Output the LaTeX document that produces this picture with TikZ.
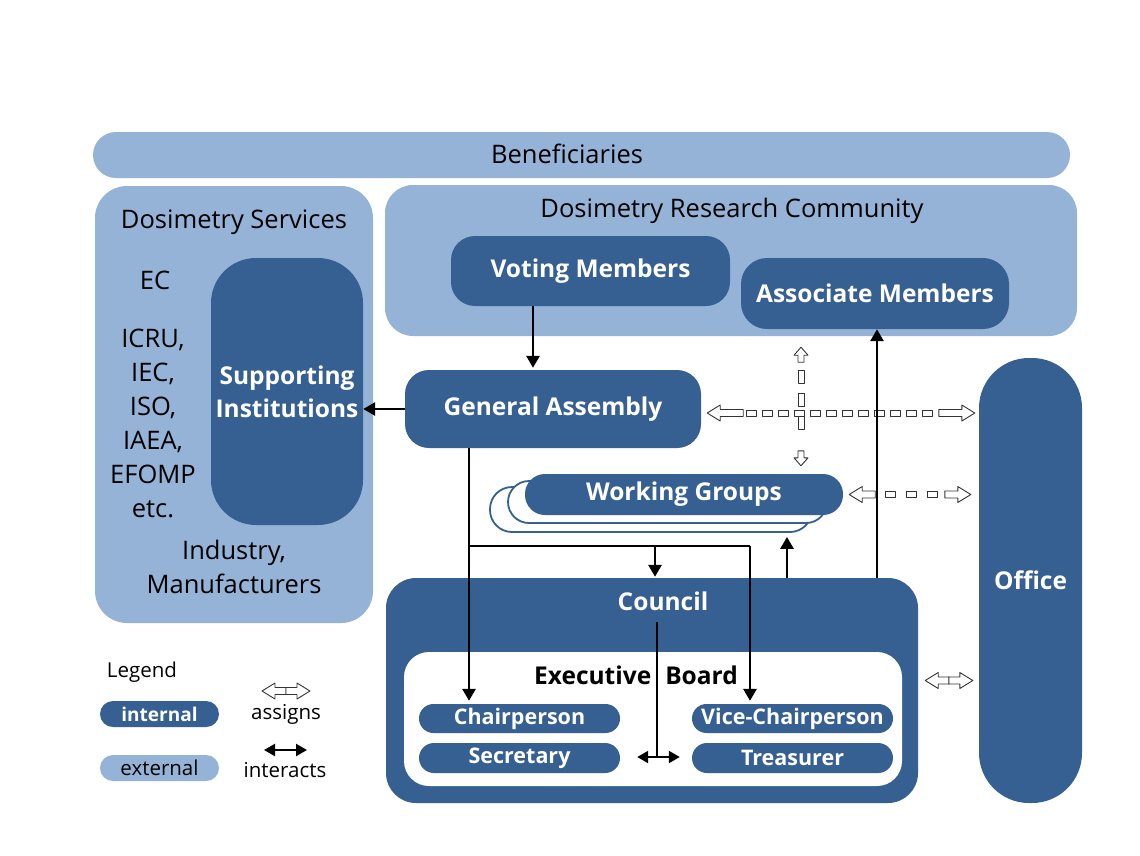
\documentclass[tikz,border=0pt]{standalone}
\usepackage{fontspec}
\setmainfont{Open Sans}
\usetikzlibrary{arrows.meta,decorations.markings,calc}
\definecolor{dk}{RGB}{54,95,146}
\definecolor{lt}{RGB}{149,179,215}
\newcommand\regf{\fontsize{25.5}{34}\selectfont}
\newcommand\boldf{\bfseries\fontsize{24.5}{33}\selectfont}
\newcommand\smallbf{\bfseries\fontsize{21.5}{24}\selectfont}
\newcommand\legf{\fontsize{20.5}{24}\selectfont}
\tikzset{
 base/.style={rectangle, inner sep=0pt, align=center},
 intbox/.style={base, fill=dk, text=white, font=\boldf},
 extbox/.style={base, fill=lt, text=black, font=\regf},
 backbox/.style={base, draw=dk, line width=1.8pt, fill=white},
 arr/.style={line width=2.8pt, -{Triangle[width=13pt,length=12pt]}},
 thinline/.style={line width=2.2pt},
 biarr/.style={line width=2.2pt, {Triangle[width=12pt,length=11pt]}-{Triangle[width=12pt,length=11pt]}},
 hd/.style={draw=black!80, line width=0.9pt, fill=white},
 assigndash/.style={postaction={decorate, decoration={markings,
   mark=between positions #1 with {\draw[hd] (-5,-3) rectangle (5,3);}}}},
 assigndashv/.style={postaction={decorate, decoration={markings,
   mark=between positions #1 with {\draw[hd] (-6.5,-3) rectangle (6.5,3);}}}},
 assignheads/.style={postaction={decorate, decoration={markings,
   mark=at position 0 with {\draw[hd] (0,0) -- (13,-8) -- (13,-3.5) -- (#1,-3.5) -- (#1,3.5) -- (13,3.5) -- (13,8) -- cycle;},
   mark=at position 1 with {\draw[hd] (0,0) -- (-13,-8) -- (-13,-3.5) -- (-#1,-3.5) -- (-#1,3.5) -- (-13,3.5) -- (-13,8) -- cycle;}}}},
 assignheadsv/.style={postaction={decorate, decoration={markings,
   mark=at position 0 with {\draw[hd] (0,0) -- (8,-7) -- (8,-3) -- (#1,-3) -- (#1,3) -- (8,3) -- (8,7) -- cycle;},
   mark=at position 1 with {\draw[hd] (0,0) -- (-8,-7) -- (-8,-3) -- (-#1,-3) -- (-#1,3) -- (-8,3) -- (-8,7) -- cycle;}}}}
}
\begin{document}
\begin{tikzpicture}[x=1pt,y=-1pt,line join=round]
\useasboundingbox[fill=white] (0,0) rectangle (1140,855);
% lanes
\coordinate (x533) at (533,0);
\coordinate (x469) at (469,0);
\coordinate (x750) at (750,0);
\coordinate (x655) at (655,0);
\coordinate (x787) at (787,0);
\coordinate (x877) at (877,0);
\coordinate (x801) at (801,0);
\coordinate (x657) at (657,0);
\coordinate (y546) at (0,546);
% external areas
\node[extbox, minimum width=977pt, minimum height=46pt, rounded corners=23pt] (ben) at (581.5,155) {};
\node[font=\regf] (bentxt) at (567,154) {Beneficiaries};
\node[extbox, minimum width=278pt, minimum height=437pt, rounded corners=32pt] (ds) at (234,404.5) {};
\node[font=\regf] (dstxt) at (234,222) {Dosimetry Services};
\node[font=\regf] (ec) at (155,280) {EC};
\node[font=\regf, align=center] (orgs) at (153,423.5) {ICRU,\\IEC,\\ISO,\\IAEA,\\EFOMP\\etc.};
\node[font=\regf, align=center] (ind) at (234,566.5) {Industry,\\Manufacturers};
\node[intbox, minimum width=152pt, minimum height=267pt, rounded corners=45pt] (si) at (287,391.5) {Supporting\\Institutions};
\node[extbox, minimum width=692pt, minimum height=151pt, rounded corners=28pt] (drc) at (731,260.5) {};
\node[font=\regf] (drctxt) at (732,211) {Dosimetry Research Community};
\node[intbox, minimum width=279pt, minimum height=70pt, rounded corners=24pt] (vm) at (590.5,271) {Voting Members};
\node[intbox, minimum width=268pt, minimum height=71pt, rounded corners=26pt] (am) at (875,293.5) {Associate Members};
% internal
\node[intbox, minimum width=296pt, minimum height=78pt, rounded corners=24pt] (ga) at (553,409) {General Assembly};
\node[intbox, minimum width=103pt, minimum height=445pt, rounded corners=50pt] (office) at (1030.5,580.5) {Office};
\node[backbox, minimum width=322pt, minimum height=45pt, rounded corners=22pt] (wgb2) at (651,509.5) {};
\node[backbox, minimum width=319pt, minimum height=42pt, rounded corners=21pt] (wgb1) at (667.5,502) {};
\node[intbox, minimum width=318pt, minimum height=41pt, rounded corners=20pt] (wg) at (684,494.5) {Working Groups};
\node[intbox, minimum width=532pt, minimum height=225pt, rounded corners=30pt] (council) at (652,690.5) {};
\node[font=\boldf, text=white] (counciltxt) at (663,601) {Council};
\node[base, fill=white, minimum width=498pt, minimum height=134pt, rounded corners=25pt] (eb) at (653,719) {};
\node[font=\boldf] (ebtxt) at (636,675) {Executive\hspace{14pt}Board};
\node[intbox, font=\smallbf, minimum width=201pt, minimum height=29pt, rounded corners=14.5pt] (chair) at (519.5,718.5) {Chairperson};
\node[intbox, font=\smallbf, minimum width=201pt, minimum height=30pt, rounded corners=15pt] (sec) at (519.5,758) {Secretary};
\node[intbox, font=\smallbf, minimum width=201pt, minimum height=29pt, rounded corners=14.5pt] (vice) at (792.5,718.5) {Vice-Chairperson};
\node[intbox, font=\smallbf, minimum width=201pt, minimum height=30pt, rounded corners=15pt] (treas) at (792.5,758) {Treasurer};
% legend
\node[font=\legf] (legtitle) at (142,672) {Legend};
\node[intbox, font=\bfseries\fontsize{19}{24}\selectfont, minimum width=119pt, minimum height=26pt, rounded corners=13pt] (lint) at (159.5,714) {internal};
\node[extbox, font=\legf, minimum width=119pt, minimum height=26pt, rounded corners=13pt] (lext) at (159.5,768) {external};
\node[font=\legf] (lassign) at (286,714) {assigns};
\node[font=\legf] (linter) at (285,770) {interacts};
\coordinate (la1) at (262,691);
\coordinate (la2) at (310,691);
\coordinate (li1) at (264,750);
\coordinate (li2) at (307,750);
% assigns connectors
\path[assigndash={44pt and -44pt step 16pt}, assignheads=36] ($(ga.east)+(6,4)$) -- ($(ga.east -| office.west)+(-4,4)$);
\path[assigndashv={30pt and -30pt step 23pt}, assignheadsv=15] ($(drc.south -| x801)+(0,11)$) -- ($(wg.north -| x801)+(0,-8)$);
\path[assigndash={41pt and -37pt step 21pt}, assignheads=26] ($(wg.east)+(6,0)$) -- ($(wg.east -| office.west)+(-8,0)$);
\path[assignheads=24] ($(council.east)+(7,-10)$) -- ($(council.east -| office.west)+(-6,-10)$);
\path[assignheads=24] (la1) -- (la2);
% solid connectors
\draw[arr] (vm.south -| x533) -- ($(ga.north -| x533)+(0,-2)$);
\draw[arr] (ga.west) -- (ga.west -| si.east);
\draw[arr] (ga.south -| x469) -- ($(chair.north -| x469)+(0,-3)$);
\draw[thinline] (x469 |- y546) -- (x750 |- y546);
\draw[arr] (x750 |- y546) -- ($(vice.north -| x750)+(0,-3)$);
\draw[arr] (x655 |- y546) -- ($(council.north -| x655)+(0,-1)$);
\draw[arr] (council.north -| x787) -- ($(wgb2.south -| x787)+(0,4)$);
\draw[arr] (council.north -| x877) -- (am.south -| x877);
\draw[thinline] ($(counciltxt.south -| x657)+(0,8)$) -- ($(sec.east -| x657)+(0,-1)$);
\draw[biarr] ($(sec.east)+(17,-1)$) -- ($(treas.west)+(-12,-1)$);
\draw[biarr] (li1) -- (li2);
\end{tikzpicture}
\end{document}
